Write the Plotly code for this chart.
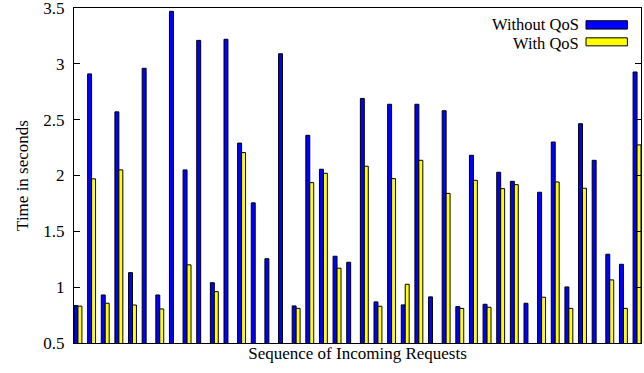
import plotly.graph_objects as go

without_qos = [0.835, 2.91, 0.93, 2.57, 1.13, 2.96, 0.93, 3.47, 2.05, 3.21,
               1.04, 3.22, 2.29, 1.755, 1.255, 3.09, 0.832, 2.36, 2.056, 1.277,
               1.223, 2.69, 0.868, 2.638, 0.841, 2.638, 0.913, 2.58, 0.826, 2.181,
               0.847, 2.029, 1.948, 0.856, 1.85, 2.30, 1.002, 2.464, 2.136, 1.295,
               1.205, 2.927]
with_qos = [0.83, 1.97, 0.856, 2.05, 0.84, None, 0.805, None, 1.20, None,
            0.96, None, 2.205, None, None, None, 0.81, 1.936, 2.02, 1.17,
            None, 2.083, 0.829, 1.972, 1.026, 2.136, None, 1.84, 0.81, 1.957,
            0.82, 1.882, 1.918, None, 0.91, 1.942, 0.81, 1.886, None, 1.065,
            0.81, 2.274]
requests = list(range(len(without_qos)))
y_ticks = [0.5, 1, 1.5, 2, 2.5, 3, 3.5]
series_names = ["Without QoS", "With QoS"]
series_colors = ["#0000ff", "#ffff00"]

FONT = "Liberation Serif"
FS = 17
fig = go.Figure()
for name, vals, col in zip(series_names, [without_qos, with_qos], series_colors):
    fig.add_trace(go.Bar(x=requests, y=vals, name=name, base=0,
                         marker=dict(color=col, line=dict(color="black", width=1)),
                         showlegend=False))

fig.update_layout(
    width=644, height=373,
    margin=dict(l=74, r=3, t=8, b=30, autoexpand=False),
    paper_bgcolor="white", plot_bgcolor="white",
    barmode="group", bargap=0.42, bargroupgap=0,
    font=dict(family=FONT, size=FS, color="black"),
    xaxis=dict(range=[-0.29, 41.29], showticklabels=False, ticks="",
               showgrid=False, zeroline=False, showline=True, linecolor="black",
               linewidth=1, mirror=True, automargin=False,
               title=dict(text="Sequence of Incoming Requests", standoff=4,
                          font=dict(family=FONT, size=FS))),
    yaxis=dict(range=[0.5, 3.5], tickvals=y_ticks,
               ticktext=[f"{v:g}" for v in y_ticks], ticks="inside", ticklen=6,
               tickcolor="black", showgrid=False, zeroline=False, showline=True,
               linecolor="black", linewidth=1, mirror="ticks", automargin=False,
               ticklabelstandoff=5, ticklabeloverflow="allow",
               tickfont=dict(family=FONT, size=FS),
               title=dict(text="Time in seconds", standoff=10,
                          font=dict(family=FONT, size=FS))),
)

# legend drawn as keys to the right of labels (gnuplot style)
rows = [(0.952, 0.962, 0.937), (0.894, 0.911, 0.887)]
for (yc, y1, y0), name, col in zip(rows, series_names, series_colors):
    fig.add_shape(type="rect", xref="paper", yref="paper", x0=0.903, x1=0.976,
                  y0=y0, y1=y1, fillcolor=col, line=dict(color="black", width=1))
    fig.add_annotation(xref="paper", yref="paper", x=0.892, y=yc, text=name,
                       showarrow=False, xanchor="right", yanchor="middle",
                       borderpad=0,
                       font=dict(family=FONT, size=16.5, color="black"))

fig.write_html("out.html", config={"displayModeBar": False},
               post_script="document.body.style.margin='0';")
